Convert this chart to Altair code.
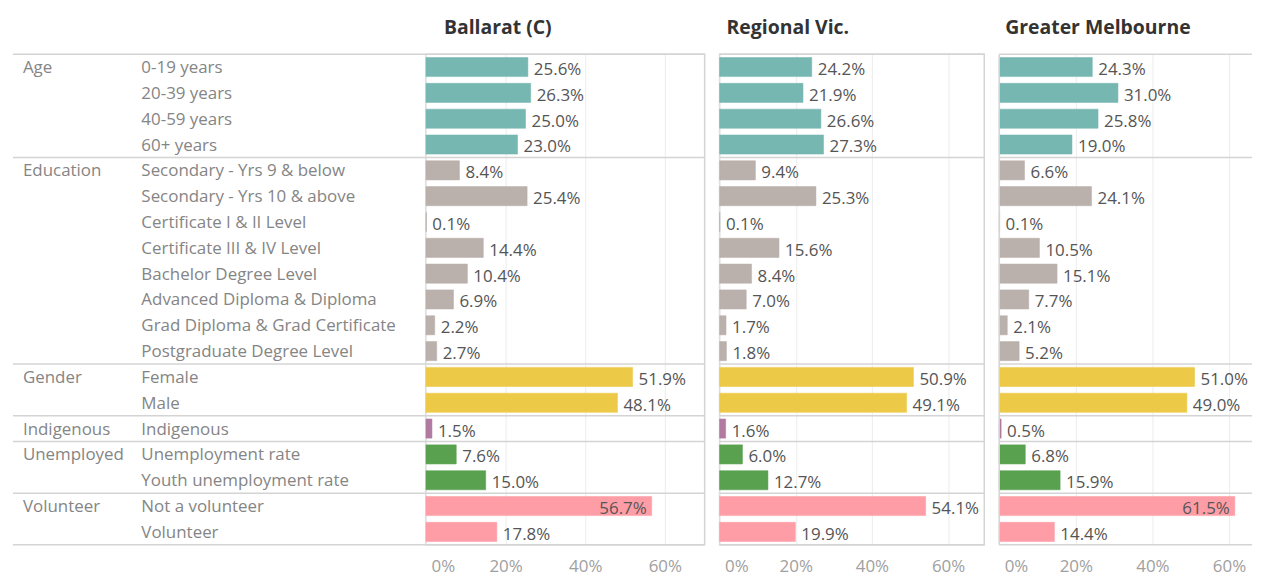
import altair as alt
import pandas as pd

groups = ["Age"] * 4 + ["Education"] * 8 + ["Gender"] * 2 + ["Indigenous"] + ["Unemployed"] * 2 + ["Volunteer"] * 2
items = [
    "0-19 years", "20-39 years", "40-59 years", "60+ years",
    "Secondary - Yrs 9 & below", "Secondary - Yrs 10 & above",
    "Certificate I & II Level", "Certificate III & IV Level",
    "Bachelor Degree Level", "Advanced Diploma & Diploma",
    "Grad Diploma & Grad Certificate", "Postgraduate Degree Level",
    "Female", "Male", "Indigenous",
    "Unemployment rate", "Youth unemployment rate",
    "Not a volunteer", "Volunteer",
]
ballarat = [25.6, 26.3, 25.0, 23.0, 8.4, 25.4, 0.1, 14.4, 10.4, 6.9, 2.2, 2.7,
            51.9, 48.1, 1.5, 7.6, 15.0, 56.7, 17.8]
regional = [24.2, 21.9, 26.6, 27.3, 9.4, 25.3, 0.1, 15.6, 8.4, 7.0, 1.7, 1.8,
            50.9, 49.1, 1.6, 6.0, 12.7, 54.1, 19.9]
melbourne = [24.3, 31.0, 25.8, 19.0, 6.6, 24.1, 0.1, 10.5, 15.1, 7.7, 2.1, 5.2,
             51.0, 49.0, 0.5, 6.8, 15.9, 61.5, 14.4]
regions = ["Ballarat (C)", "Regional Vic.", "Greater Melbourne"]
group_names = ["Age", "Education", "Gender", "Indigenous", "Unemployed", "Volunteer"]
group_colors = ["#76b7b2", "#bab0ac", "#edc948", "#b07aa1", "#59a14f", "#ff9da7"]
tick_values = [0, 20, 40, 60]

FONT = "Open Sans"
NROWS = len(items)

rows = pd.DataFrame({"row": list(range(NROWS)), "group": groups, "item": items})
rows["first"] = [i == 0 or groups[i] != groups[i - 1] for i in range(NROWS)]

# group boundaries (row indices where a new group starts, plus the end)
bounds_list = [i for i in range(NROWS) if rows["first"][i]] + [NROWS]
bounds_df = pd.DataFrame({"b": bounds_list})

yscale = alt.Scale(domain=[0, NROWS], reverse=True, nice=False, zero=False)
color_scale = alt.Scale(domain=group_names, range=group_colors)

H = 493
LINE = "#d4d4d4"

sep_rule = alt.Chart(bounds_df).mark_rule(color=LINE, strokeWidth=1.5).encode(
    y=alt.Y("b:Q", scale=yscale, axis=None)
)

# ---- label table ----
lab_base = alt.Chart(rows)
grp_text = lab_base.transform_filter("datum.first").mark_text(
    align="left", baseline="middle", fontSize=17, color="#858585", font=FONT, dy=1
).transform_calculate(yc="datum.row + 0.5").encode(
    x=alt.value(10), y=alt.Y("yc:Q", scale=yscale, axis=None), text="group:N"
)
item_text = lab_base.mark_text(
    align="left", baseline="middle", fontSize=17, color="#858585", font=FONT, dy=1
).transform_calculate(yc="datum.row + 0.5").encode(
    x=alt.value(129), y=alt.Y("yc:Q", scale=yscale, axis=None), text="item:N"
)
labels = alt.layer(sep_rule, grp_text, item_text).properties(
    width=415, height=H, view=alt.ViewBackground(strokeOpacity=0)
)


def panel(name, values, width, dmax, dx, border=True):
    df = rows.copy()
    df["value"] = values
    xscale = alt.Scale(domain=[0, dmax], nice=False)
    base = alt.Chart(df).transform_calculate(
        y0="datum.row + 0.13", y1="datum.row + 0.87", yc="datum.row + 0.5",
        lbl="format(datum.value, '.1f') + '%'"
    )
    bars = base.mark_bar(strokeWidth=1, strokeOpacity=0.55).encode(
        x=alt.X("value:Q", scale=xscale,
                axis=alt.Axis(values=tick_values, labelExpr="datum.value + '%'",
                              title=None, domain=False, ticks=False, grid=True,
                              gridColor="#ececec", gridWidth=1,
                              labelFontSize=17, labelColor="#a0a0a0", labelFont=FONT,
                              labelPadding=14, labelFlush=True, labelFlushOffset=-5)),
        x2=alt.datum(0),
        y=alt.Y("y0:Q", scale=yscale, axis=None),
        y2="y1:Q",
        color=alt.Color("group:N", scale=color_scale, legend=None),
        stroke=alt.Stroke("group:N", scale=color_scale, legend=None),
    )
    out_txt = base.transform_filter("datum.value <= 55").mark_text(
        align="left", baseline="middle", dx=6, dy=3, fontSize=17, color="#555555", font=FONT
    ).encode(x=alt.X("value:Q", scale=xscale), y=alt.Y("yc:Q", scale=yscale, axis=None), text="lbl:N")
    in_txt = base.transform_filter("datum.value > 55").mark_text(
        align="right", baseline="middle", dx=-5, dy=3, fontSize=17, color="#555555", font=FONT
    ).encode(x=alt.X("value:Q", scale=xscale), y=alt.Y("yc:Q", scale=yscale, axis=None), text="lbl:N")
    header = alt.Chart(pd.DataFrame({"name": [name]})).mark_text(
        align="left", baseline="alphabetic", fontSize=19.5, fontWeight="bold",
        color="#333333", font=FONT
    ).encode(x=alt.value(dx), y=alt.value(-20), text="name:N")
    layers = [bars, sep_rule, out_txt, in_txt, header]
    if not border:
        left = alt.Chart(bounds_df).transform_aggregate(n="count()").mark_rule(
            color=LINE, strokeWidth=1.5
        ).encode(x=alt.datum(0, scale=xscale))
        layers.append(left)
    ch = alt.layer(*layers).properties(width=width, height=H)
    if border:
        ch = ch.properties(view=alt.ViewBackground(stroke=LINE, strokeWidth=1.5))
    else:
        ch = ch.properties(view=alt.ViewBackground(strokeOpacity=0))
    return ch


p1 = panel(regions[0], ballarat, 280, 70, 18)
p2 = panel(regions[1], regional, 266, 69.5, 7)
p3 = panel(regions[2], melbourne, 254, 66, 6, border=False)

panels = alt.hconcat(p1, p2, p3, spacing=15, bounds="flush")
chart = alt.hconcat(labels, panels, spacing=0, bounds="flush").properties(
    padding={"left": 4, "top": 8, "right": 0, "bottom": 0}
).configure_view(strokeOpacity=0).configure(font=FONT)

chart.save("out.html", embed_options={"renderer": "svg", "actions": False})
